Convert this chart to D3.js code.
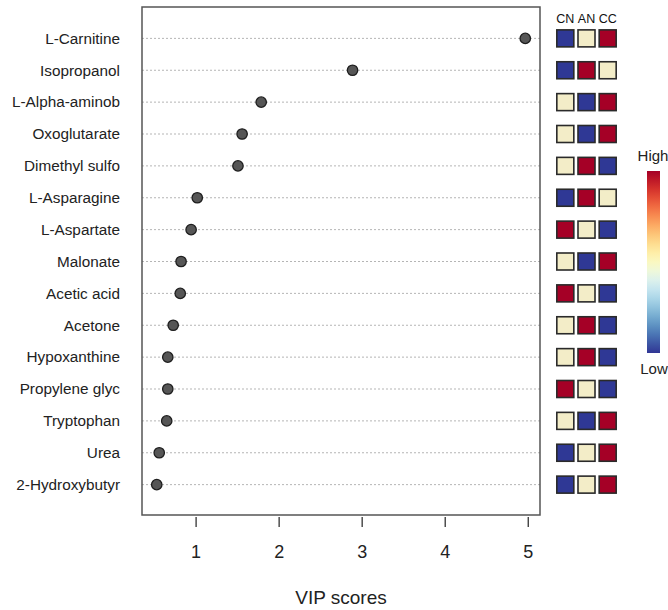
<!DOCTYPE html>
<html>
<head>
<meta charset="utf-8">
<script src="https://cdn.jsdelivr.net/npm/d3@7"></script>
<style>
  html, body { margin: 0; padding: 0; background: #fff; }
  svg { display: block; font-family: "Liberation Sans", Arial, sans-serif; }
</style>
</head>
<body>
<svg id="chart" width="668" height="610"></svg>
<script>
// Metabolites ranked by VIP score (top row first)
const features = ["L-Carnitine", "Isopropanol", "L-Alpha-aminob", "Oxoglutarate", "Dimethyl sulfo",
  "L-Asparagine", "L-Aspartate", "Malonate", "Acetic acid", "Acetone",
  "Hypoxanthine", "Propylene glyc", "Tryptophan", "Urea", "2-Hydroxybutyr"];
const vipScores = [4.97, 2.89, 1.79, 1.56, 1.51, 1.02, 0.946, 0.825, 0.815, 0.73,
  0.665, 0.665, 0.652, 0.562, 0.532];

// Groups and relative level of each metabolite per group (1 = low, 2 = mid, 3 = high)
const groups = ["CN", "AN", "CC"];
const groupLevelCN = [1, 1, 2, 2, 2, 1, 3, 2, 3, 2, 2, 3, 2, 1, 1];
const groupLevelAN = [2, 3, 1, 1, 3, 3, 2, 1, 2, 3, 3, 2, 1, 2, 2];
const groupLevelCC = [3, 2, 3, 3, 1, 2, 1, 3, 1, 1, 1, 1, 3, 3, 3];
const xTicks = [1, 2, 3, 4, 5];

const svg = d3.select("#chart");
const box = { left: 142, right: 540, top: 7, bottom: 515 };

// x: R-style 4% padding around the data range
const vMin = d3.min(vipScores), vMax = d3.max(vipScores);
const pad = (vMax - vMin) * 0.04;
const x = d3.scaleLinear().domain([vMin - pad, vMax + pad]).range([box.left, box.right]);

// y: rows 1..n from bottom, with one unit of space above and below
const n = features.length;
const y = d3.scaleLinear().domain([0, n + 1]).range([box.bottom + 1.5, box.top - 0.5]);
const rowY = i => y(n - i);

// dotted guide lines
svg.append("g").selectAll("line").data(features).join("line")
  .attr("x1", box.left).attr("x2", box.right)
  .attr("y1", (d, i) => rowY(i)).attr("y2", (d, i) => rowY(i))
  .attr("stroke", "#b5b5b5").attr("stroke-width", 1)
  .attr("stroke-dasharray", "2,2");

// plot frame
svg.append("rect")
  .attr("x", box.left).attr("y", box.top)
  .attr("width", box.right - box.left).attr("height", box.bottom - box.top)
  .attr("fill", "none").attr("stroke", "#555").attr("stroke-width", 1.5);

// row labels
svg.append("g").selectAll("text").data(features).join("text")
  .attr("x", 120).attr("y", (d, i) => rowY(i))
  .attr("dy", "0.35em").attr("text-anchor", "end")
  .attr("font-size", 15.3).attr("fill", "#222")
  .text(d => d);

// points
svg.append("g").selectAll("circle").data(vipScores).join("circle")
  .attr("cx", d => x(d)).attr("cy", (d, i) => rowY(i))
  .attr("r", 5.2)
  .attr("fill", "#565656").attr("stroke", "#1e1e1e").attr("stroke-width", 1.3);

// bottom axis
const axis = d3.axisBottom(x).tickValues(xTicks).tickSize(10).tickPadding(18).tickFormat(d3.format("d"));
const gAxis = svg.append("g").attr("transform", `translate(0,${box.bottom + 2})`).call(axis);
gAxis.select(".domain").remove();
gAxis.selectAll(".tick line").attr("stroke", "#333").attr("stroke-width", 1.3);
gAxis.selectAll(".tick text").attr("font-size", 18).attr("fill", "#222")
  .attr("font-family", "Liberation Sans, Arial, sans-serif");

svg.append("text")
  .attr("x", (box.left + box.right) / 2).attr("y", 604)
  .attr("text-anchor", "middle").attr("font-size", 19).attr("fill", "#222")
  .text("VIP scores");

// group level tiles
const levelColor = d3.scaleOrdinal().domain([1, 2, 3]).range(["#2f3895", "#f3edc8", "#a50026"]);
const tileX = d3.scaleBand().domain(groups).range([556, 617]).paddingInner(0.12);
const levels = [groupLevelCN, groupLevelAN, groupLevelCC];

svg.append("g").selectAll("text").data(groups).join("text")
  .attr("x", g => tileX(g) + tileX.bandwidth() / 2).attr("y", 23)
  .attr("text-anchor", "middle").attr("font-size", 12.5).attr("fill", "#111")
  .text(g => g);

const tileSize = 17;
const tiles = [];
groups.forEach((g, gi) => levels[gi].forEach((v, i) => tiles.push({ g, i, v })));
svg.append("g").selectAll("rect").data(tiles).join("rect")
  .attr("x", d => tileX(d.g) + (tileX.bandwidth() - tileSize) / 2)
  .attr("y", d => rowY(d.i) - tileSize / 2)
  .attr("width", tileSize).attr("height", tileSize)
  .attr("fill", d => levelColor(d.v))
  .attr("stroke", "#2a2a2a").attr("stroke-width", 1.6);

// colour key
const defs = svg.append("defs");
const grad = defs.append("linearGradient").attr("id", "keyGrad")
  .attr("x1", 0).attr("y1", 1).attr("x2", 0).attr("y2", 0);
d3.range(0, 1.0001, 0.05).forEach(t => {
  grad.append("stop").attr("offset", t).attr("stop-color", d3.interpolateRdYlBu(1 - t));
});
svg.append("rect").attr("x", 647).attr("y", 171).attr("width", 13).attr("height", 182)
  .attr("fill", "url(#keyGrad)");
svg.append("text").attr("x", 653).attr("y", 161).attr("text-anchor", "middle")
  .attr("font-size", 15).attr("fill", "#222").text("High");
svg.append("text").attr("x", 654).attr("y", 374).attr("text-anchor", "middle")
  .attr("font-size", 15).attr("fill", "#222").text("Low");
</script>
</body>
</html>
